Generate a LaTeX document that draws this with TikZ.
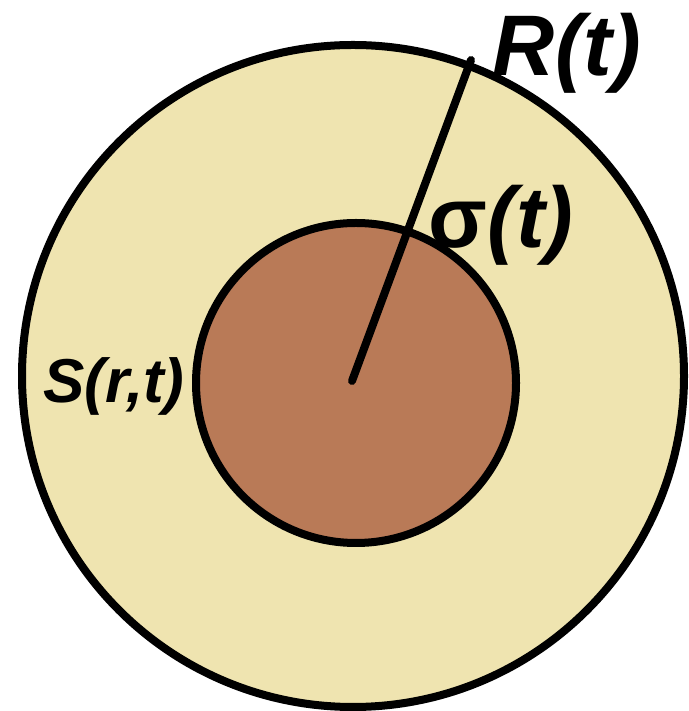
\documentclass[tikz,border=0pt]{standalone}
\usepackage{fontspec}
\setmainfont{Liberation Sans}
\usepackage{xcolor}
\usetikzlibrary{positioning}
\definecolor{sand}{HTML}{EFE4B0}
\definecolor{clay}{HTML}{B97A57}

\begin{document}
\begin{tikzpicture}[
  x=0.5pt, y=0.5pt,
  ring/.style={circle, draw=black, line width=4pt, inner sep=0pt},
  radius line/.style={draw=black, line width=4pt, line cap=round},
  biglabel/.style={font=\fontsize{43}{43}\selectfont\bfseries\itshape, inner sep=0pt},
  smalllabel/.style={font=\fontsize{31}{31}\selectfont\bfseries\itshape, inner sep=0pt}
]
\useasboundingbox (0,0) rectangle (689,711);
\node[ring, fill=sand, minimum size=331pt] (outer) at (353,335) {};
\node[ring, fill=clay, minimum size=160pt] (inner) at (356,328) {};
\coordinate (centre) at (352,330);
\coordinate (rim) at (471,651);
\draw[radius line] (centre) -- (rim);
\node[biglabel] (Rt) at (567,658) {R(t)};
\node[biglabel] (sigmat) at (501,486) {{\upshape σ}(t)};
\node[smalllabel] (Srt) at (114,325) {S(r,t)};
\end{tikzpicture}
\end{document}
